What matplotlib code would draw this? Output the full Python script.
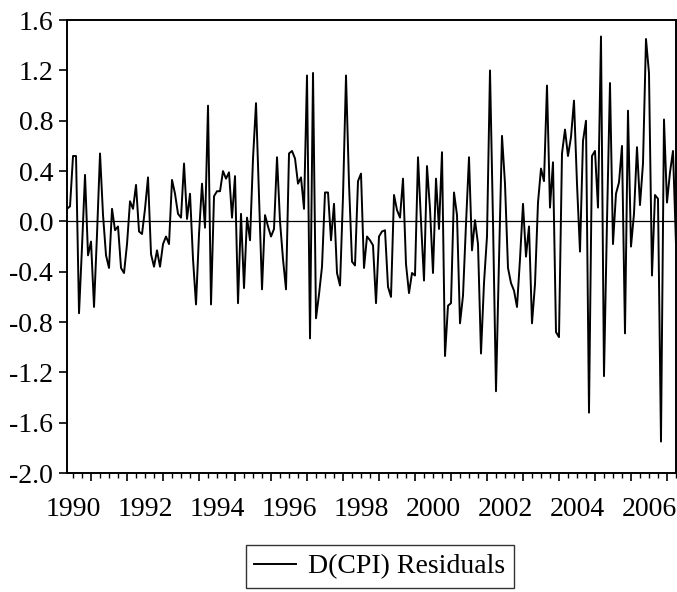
import numpy as np
import matplotlib
matplotlib.use("Agg")
import matplotlib.pyplot as plt
from matplotlib.ticker import FixedLocator, FuncFormatter, NullFormatter

plt.rcParams["font.family"] = ["Liberation Serif", "DejaVu Serif"]
plt.rcParams["axes.unicode_minus"] = False

# first observation 1990M05, monthly
start_year = 1990
start_month = 5
series_name = "D(CPI) Residuals"

residuals = [
    0.10, 0.12, 0.52, 0.52, -0.73, -0.20, 0.37, -0.27, -0.16, -0.68, -0.10, 0.54,
    0.05, -0.27, -0.37, 0.10, -0.07, -0.04, -0.37, -0.41, -0.18, 0.16, 0.10, 0.29,
    -0.08, -0.10, 0.10, 0.35, -0.26, -0.36, -0.23, -0.36, -0.18, -0.12, -0.18, 0.33,
    0.22, 0.06, 0.03, 0.46, 0.02, 0.22, -0.30, -0.66, -0.10, 0.30, -0.05, 0.92,
    -0.66, 0.20, 0.24, 0.24, 0.40, 0.34, 0.39, 0.03, 0.36, -0.65, 0.06, -0.53,
    0.03, -0.15, 0.50, 0.94, 0.20, -0.54, 0.05, -0.04, -0.12, -0.06, 0.51, 0.00,
    -0.30, -0.54, 0.54, 0.56, 0.50, 0.30, 0.35, 0.10, 1.16, -0.93, 1.18, -0.77,
    -0.58, -0.36, 0.23, 0.23, -0.15, 0.14, -0.41, -0.51, 0.20, 1.16, 0.30, -0.32,
    -0.35, 0.32, 0.38, -0.37, -0.12, -0.15, -0.19, -0.65, -0.12, -0.08, -0.07, -0.52,
    -0.60, 0.21, 0.09, 0.03, 0.34, -0.34, -0.57, -0.41, -0.43, 0.51, 0.00, -0.47,
    0.44, 0.10, -0.41, 0.34, -0.06, 0.55, -1.07, -0.67, -0.65, 0.23, 0.05, -0.81,
    -0.59, -0.02, 0.51, -0.23, 0.01, -0.18, -1.05, -0.49, -0.12, 1.20, 0.00, -1.35,
    -0.31, 0.68, 0.30, -0.37, -0.49, -0.55, -0.68, -0.30, 0.14, -0.28, -0.04, -0.81,
    -0.50, 0.15, 0.42, 0.32, 1.08, 0.11, 0.47, -0.88, -0.92, 0.54, 0.73, 0.52,
    0.67, 0.96, 0.30, -0.24, 0.64, 0.80, -1.52, 0.52, 0.56, 0.11, 1.47, -1.23,
    0.00, 1.10, -0.18, 0.22, 0.31, 0.60, -0.89, 0.88, -0.20, 0.06, 0.59, 0.13,
    0.46, 1.45, 1.18, -0.43, 0.21, 0.18, -1.75, 0.81, 0.15, 0.39, 0.56, -0.18,
]
year_labels = list(range(1990, 2007, 2))
y_ticks = [-2.0, -1.6, -1.2, -0.8, -0.4, 0.0, 0.4, 0.8, 1.2, 1.6]

t = start_year + (start_month - 1 + np.arange(len(residuals))) / 12.0

fig = plt.figure(figsize=(6.77, 5.92), dpi=100)
ax = fig.add_axes([0.099, 0.201, 0.8995, 0.765])

line, = ax.plot(t, residuals, color="black", lw=1.4)
ax.axhline(0, color="black", lw=0.9)

ax.set_xlim(t[0], t[-1])
ax.set_ylim(-2.0, 1.6)
ax.yaxis.set_major_locator(FixedLocator(y_ticks))
ax.yaxis.set_major_formatter(FuncFormatter(lambda v, p: f"{v:.1f}"))

# year boundaries get the long ticks, quarters the short ones;
# year labels sit centred in the middle of each (even) year
years = np.arange(1990, 2009)
quarters = [y + q / 4 for y in range(1989, 2008) for q in (1, 2, 3)]
ax.xaxis.set_major_locator(FixedLocator(years))
ax.xaxis.set_major_formatter(NullFormatter())
ax.xaxis.set_minor_locator(FixedLocator(quarters))
label_pos = {y + 0.5: str(y) for y in year_labels}
ax.xaxis.set_minor_formatter(
    FuncFormatter(lambda v, p: label_pos.get(round(v, 2), "")))

for s in ax.spines.values():
    s.set_linewidth(1.4)
ax.tick_params(axis="y", which="major", direction="out", length=6, width=1.2,
               labelsize=20, pad=4)
ax.tick_params(axis="x", which="major", direction="out", length=6, width=1.2)
ax.tick_params(axis="x", which="minor", direction="out", length=3.5, width=1.0,
               labelsize=20, pad=14)
ax.tick_params(top=False, right=False)

leg = fig.legend([line], [series_name], loc="center", bbox_to_anchor=(0.561, 0.043),
                 fontsize=20, frameon=True, fancybox=False, edgecolor="black",
                 handlelength=1.5, borderpad=0.3, handletextpad=0.45)
leg.get_frame().set_linewidth(1.0)

fig.savefig("out.png", dpi=100)
